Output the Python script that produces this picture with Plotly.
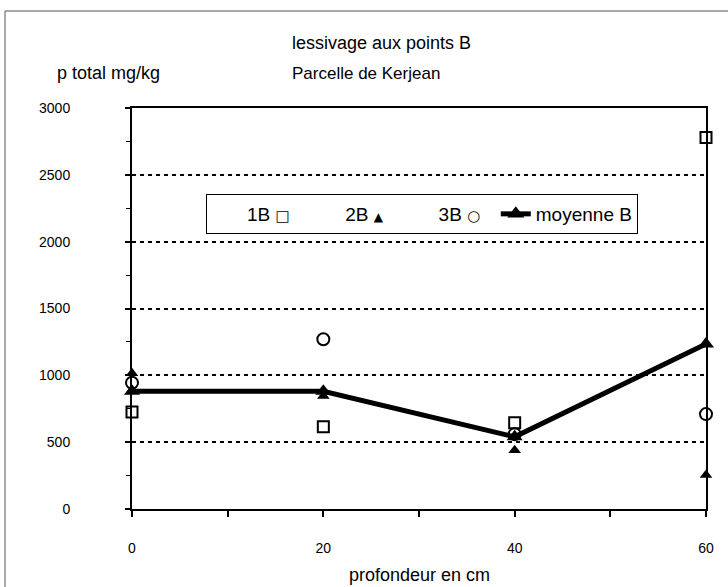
import plotly.graph_objects as go

depth = [0, 20, 40, 60]
b1 = [725, 615, 645, 2780]
b2 = [1015, 845, 440, 255]
b3 = [945, 1270, 560, 710]
mean_b = [880, 880, 540, 1235]

x_ticks = [0, 20, 40, 60]
y_ticks = [0, 500, 1000, 1500, 2000, 2500, 3000]

FONT = "Liberation Sans, Arial, sans-serif"

fig = go.Figure()

fig.add_trace(go.Scatter(x=depth, y=mean_b, mode="lines+markers", name="moyenne B",
                         line=dict(color="black", width=5),
                         marker=dict(symbol="triangle-up", size=14, color="black"),
                         cliponaxis=False, showlegend=False))
fig.add_trace(go.Scatter(x=depth, y=b1, mode="markers", name="1B",
                         marker=dict(symbol="square-open", size=11, color="black",
                                     line=dict(width=2, color="black")),
                         cliponaxis=False, showlegend=False))
fig.add_trace(go.Scatter(x=depth, y=b2, mode="markers", name="2B",
                         marker=dict(symbol="triangle-up", size=11, color="black"),
                         cliponaxis=False, showlegend=False))
fig.add_trace(go.Scatter(x=depth, y=b3, mode="markers", name="3B",
                         marker=dict(symbol="circle-open", size=12, color="black",
                                     line=dict(width=2, color="black")),
                         cliponaxis=False, showlegend=False))

# legend entries (text first, glyph after, as in the reference)
glyph_fmt = "<span style='font-family:DejaVu Sans;font-size:%dpx'><b>%s</b></span>"
pad = "&nbsp;" * 2
for label, glyph, gsize in [("1B", "□", 15), ("2B", "▲", 12), ("3B", "○", 15)]:
    fig.add_trace(go.Scatter(x=[None], y=[None], mode="markers",
                             name=label + " " + (glyph_fmt % (gsize, glyph)) + pad,
                             marker=dict(size=1, color="rgba(0,0,0,0)")))
fig.add_trace(go.Scatter(x=[None], y=[None], mode="lines+markers", name="moyenne B",
                         line=dict(color="black", width=5),
                         marker=dict(symbol="triangle-up", size=15, color="black")))

fig.update_layout(
    width=728, height=587,
    margin=dict(l=132, r=22, t=108, b=78),
    paper_bgcolor="white", plot_bgcolor="white",
    font=dict(family=FONT, size=14, color="black"),
    showlegend=True,
    legend=dict(orientation="h", x=(206 - 132) / 574, y=(509 - 194) / 401,
                xanchor="left", yanchor="top",
                bgcolor="white", bordercolor="black", borderwidth=1,
                font=dict(family=FONT, size=19, color="black"),
                itemwidth=30, traceorder="normal"),
    xaxis=dict(range=[0, 60], tickvals=x_ticks, ticktext=[str(v) for v in x_ticks],
               showgrid=False, zeroline=False, showline=True, linecolor="black",
               linewidth=2, mirror=True, ticks="outside", ticklen=6, tickwidth=1.5,
               tickcolor="black", ticklabelstandoff=19,
               minor=dict(dtick=10, ticks="outside", ticklen=6, tickwidth=1.5,
                          tickcolor="black", showgrid=False),
               tickfont=dict(size=14)),
    yaxis=dict(range=[0, 3000], tickvals=y_ticks, ticktext=[str(v) for v in y_ticks],
               showgrid=True, gridcolor="black", gridwidth=1.8, griddash="4px,4px",
               zeroline=False, showline=True, linecolor="black", linewidth=2,
               mirror=True, ticks="outside", ticklen=5, tickwidth=1.5,
               tickcolor="black", ticklabelstandoff=52,
               minor=dict(dtick=250, ticks="outside", ticklen=4, tickwidth=1,
                          tickcolor="black", showgrid=False),
               tickfont=dict(size=14)),
)

fig.add_annotation(text="lessivage aux points B", xref="paper", yref="paper",
                   x=(290 - 132) / 574, y=(509 - 43) / 401, xanchor="left", yanchor="middle",
                   showarrow=False, font=dict(family=FONT, size=18, color="black"))
fig.add_annotation(text="Parcelle de Kerjean", xref="paper", yref="paper",
                   x=(290 - 132) / 574, y=(509 - 73) / 401, xanchor="left", yanchor="middle",
                   showarrow=False, font=dict(family=FONT, size=17, color="black"))
fig.add_annotation(text="p total mg/kg", xref="paper", yref="paper",
                   x=(55 - 132) / 574, y=(509 - 73) / 401, xanchor="left", yanchor="middle",
                   showarrow=False, font=dict(family=FONT, size=18, color="black"))
fig.add_annotation(text="profondeur en cm", xref="paper", yref="paper",
                   x=(419 - 132) / 574, y=(509 - 575) / 401, xanchor="center", yanchor="middle",
                   showarrow=False, font=dict(family=FONT, size=18, color="black"))

# thin outer page frame (top and left visible)
fig.add_shape(type="rect", xref="paper", yref="paper",
              x0=(5 - 132) / 574, x1=1.2, y0=-0.4, y1=(509 - 11) / 401,
              line=dict(color="#555555", width=1))

fig.write_html("out.html", config={"displayModeBar": False},
               post_script="document.body.style.margin='0';document.body.style.overflow='hidden';")
